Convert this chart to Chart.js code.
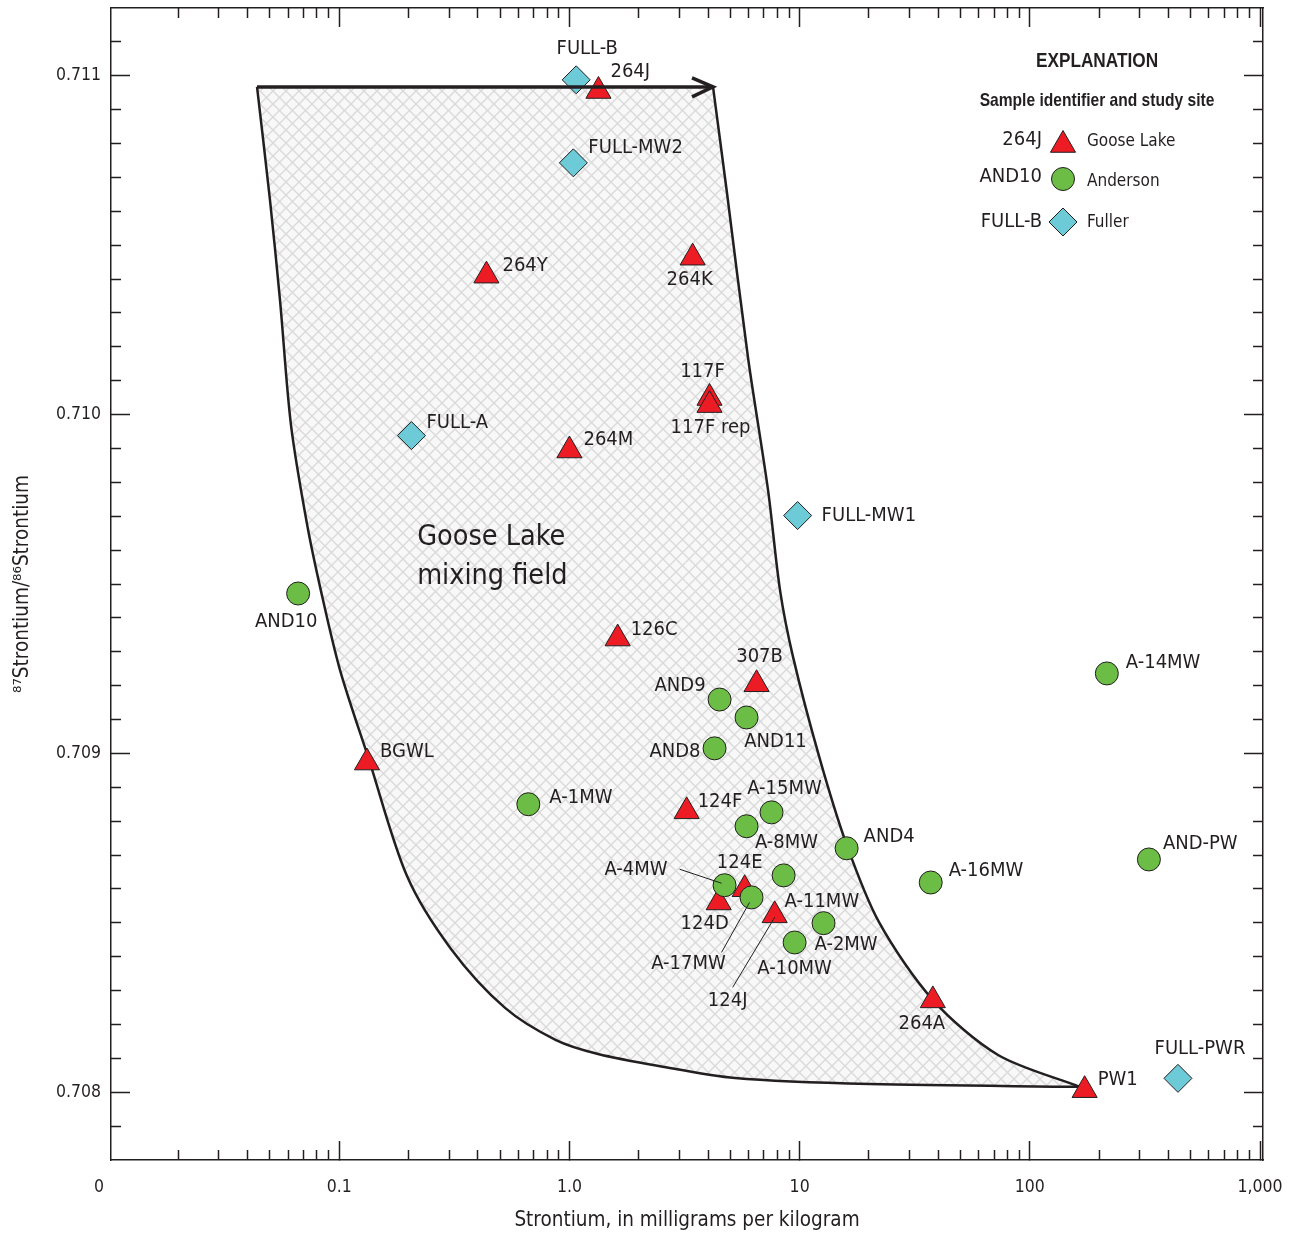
<!DOCTYPE html>
<html>
<head>
<meta charset="utf-8">
<title>Strontium isotope ratios</title>
<script src="https://cdn.jsdelivr.net/npm/chart.js@4.4.1/dist/chart.umd.min.js"></script>
<style>
  html, body { margin: 0; padding: 0; background: #ffffff; }
  #box { position: relative; width: 1299px; height: 1236px; }
</style>
</head>
<body>
<div id="box"><canvas id="myChart"></canvas></div>
<script>
// Goose Lake samples (red triangles)
const gooseNames = ["264J", "264Y", "264K", "117F", "117F rep", "264M", "126C", "307B", "BGWL", "124F", "124E", "124D", "124J", "264A", "PW1"];
const gooseSr = [1.337, 0.436, 3.43, 4.06, 4.06, 1.0, 1.62, 6.5, 0.132, 3.23, 5.77, 4.45, 7.79, 37.9, 173];
const gooseRatio = [0.710955, 0.71041, 0.710463, 0.710049, 0.710028, 0.709894, 0.709339, 0.709204, 0.708973, 0.708829, 0.708599, 0.70856, 0.708522, 0.708271, 0.708006];

// Anderson samples (green circles)
const andNames = ["AND10", "AND9", "AND11", "AND8", "A-1MW", "A-15MW", "A-8MW", "AND4", "A-11MW", "A-4MW", "A-17MW", "A-2MW", "A-10MW", "A-16MW", "A-14MW", "AND-PW"];
const andSr = [0.0663, 4.49, 5.88, 4.27, 0.663, 7.55, 5.88, 16.0, 8.52, 4.72, 6.18, 12.7, 9.51, 37.1, 216, 329];
const andRatio = [0.709472, 0.709159, 0.709106, 0.709015, 0.70885, 0.708826, 0.708785, 0.70872, 0.70864, 0.708611, 0.708575, 0.708499, 0.708442, 0.708619, 0.709236, 0.708687];

// Fuller samples (blue diamonds)
const fullNames = ["FULL-B", "FULL-MW2", "FULL-A", "FULL-MW1", "FULL-PWR"];
const fullSr = [1.07, 1.04, 0.206, 9.8, 440];
const fullRatio = [0.710988, 0.710743, 0.709938, 0.709702, 0.708041];

// mixing field: left edge from top down to PW1, right edge from PW1 back up
const leftSr = [0.04395, 0.05003, 0.0553, 0.06173, 0.07246, 0.08334, 0.1008, 0.1347, 0.197, 0.3059, 0.5252, 0.8744, 1.331, 2.475, 5.241, 20.22, 165.2];
const leftRatio = [0.710967, 0.710633, 0.710338, 0.709969, 0.709677, 0.709479, 0.709246, 0.708981, 0.708638, 0.708423, 0.708249, 0.708154, 0.708113, 0.708077, 0.708042, 0.708024, 0.708016];
const rightSr = [165.2, 72.77, 37.96, 22.12, 15.9, 12.14, 9.361, 8.218, 7.291, 5.97, 4.836, 4.205];
const rightRatio = [0.708016, 0.70811, 0.708272, 0.708502, 0.708736, 0.708992, 0.709285, 0.709482, 0.709777, 0.710167, 0.710654, 0.710967];
const arrowSr = [0.04395, 4.205];
const arrowRatio = [0.710967, 0.710967];

const xMajor = [0.01, 0.1, 1, 10, 100, 1000];
const xLabels = ["0", "0.1", "1.0", "10", "100", "1,000"];
const yMajor = [0.708, 0.709, 0.710, 0.711];
const yLabels = ["0.708", "0.709", "0.710", "0.711"];

const xMinor = [];
[0.01, 0.1, 1, 10, 100].forEach(d => { for (let m = 2; m <= 9; m++) xMinor.push(+(m * d).toPrecision(3)); });
const yMinor = [];
for (let k = 1; k < 34; k++) { if ((k - 2) % 10 !== 0) yMinor.push(+(0.7078 + k * 0.0001).toFixed(4)); }

// label offsets from each marker, in pixels: dx, dy, text alignment
const gooseLabelPos = [[12, -19, "left"], [16, -10, "left"], [-3, 22, "center"], [-7, -26, "center"], [1, 23, "center"],
  [14, -11, "left"], [13, -9, "left"], [3, -27, "center"], [13, -11, "left"], [11, -10, "left"], [-5, -26, "center"],
  [-14, 21, "center"], [-47, 85, "center"], [-11, 23, "center"], [13, -10, "left"]];
const andLabelPos = [[-12, 28, "center"], [-14, -14, "right"], [29, 24, "center"], [-14, 3, "right"], [21, -6, "left"],
  [13, -24, "center"], [40, 17, "center"], [17, -11, "left"], [1, 26, "left"], [-57, -15, "right"], [-63, 66, "center"],
  [-9, 22, "left"], [0, 26, "center"], [18, -12, "left"], [19, -11, "left"], [14, -16, "left"]];
const fullLabelPos = [[11, -31, "center"], [15, -15, "left"], [15, -13, "left"], [24, 0, "left"], [22, -30, "center"]];
// leader lines: dataset, point, from dx,dy to dx,dy
const leaders = [[1, 9, -45, -16, -3, -2], [1, 10, -30, 55, -2, 5], [2, 12, -42, 72, 0, 2]];

const ink = "#231f20";
const red = "#ed1c24";
const green = "#6cbd45";
const cyan = "#6dcbd8";
const cond = "'DejaVu Sans Condensed', 'DejaVu Sans', sans-serif";
const sans = "'Liberation Sans', Arial, sans-serif";

const X_MIN = 0.0102, X_MAX = 1030, Y_MIN = 0.7078, Y_MAX = 0.7112;

function pts(xs, ys) { return xs.map((x, i) => ({ x: x, y: ys[i] })); }

const canvas = document.getElementById("myChart");

function makeHatch() {
  const s = 13, c = document.createElement("canvas");
  c.width = s; c.height = s;
  const g = c.getContext("2d");
  g.fillStyle = "#f8f8f8";
  g.fillRect(0, 0, s, s);
  g.strokeStyle = "#dadada";
  g.lineWidth = 1.4;
  for (const k of [-s, 0, s]) {
    g.beginPath();
    g.moveTo(k, 0); g.lineTo(k + s, s);
    g.moveTo(k, s); g.lineTo(k + s, 0);
    g.stroke();
  }
  return canvas.getContext("2d").createPattern(c, "repeat");
}
const hatch = makeHatch();

function zeroPad(s) { s.paddingTop = 0; s.paddingBottom = 0; s.paddingLeft = 0; s.paddingRight = 0; }

// axis that only carries inward tick marks
function tickAxis(axis, position, values, len, border, weight) {
  return {
    axis: axis,
    type: axis === "x" ? "logarithmic" : "linear",
    position: position,
    weight: weight,
    min: axis === "x" ? X_MIN : Y_MIN,
    max: axis === "x" ? X_MAX : Y_MAX,
    afterBuildTicks: s => { s.ticks = values.map(v => ({ value: v })); },
    ticks: { display: false },
    grid: { drawOnChartArea: false, tickLength: -len, tickWidth: 1.5, tickColor: ink },
    border: { display: border, color: ink, width: 1.5 },
    afterFit: s => { if (axis === "x") s.height = 0; else s.width = 0; zeroPad(s); }
  };
}

const xAxis = tickAxis("x", "bottom", xMajor, 19, true, 1);
xAxis.ticks = {
  display: true, autoSkip: false, maxRotation: 0, padding: 36, color: ink,
  font: { family: cond, size: 17.5 },
  callback: (v, i) => i === 0 ? xLabels[0] + "\u00a0\u00a0\u00a0\u00a0" : xLabels[i]
};
xAxis.grid.tickColor = c => c.index === 0 ? "rgba(0,0,0,0)" : ink;
xAxis.title = { display: true, text: "Strontium, in milligrams per kilogram", color: ink,
  font: { family: cond, size: 20.5 }, padding: { top: 0, bottom: 3 } };
xAxis.afterFit = s => { s.height = 76; zeroPad(s); };

const yAxis = tickAxis("y", "left", yMajor, 19, true, 1);
yAxis.ticks = {
  display: true, autoSkip: false, padding: 29, color: ink,
  font: { family: cond, size: 17.5 },
  callback: (v, i) => yLabels[i]
};
yAxis.title = { display: true, text: "\u2078\u2077Strontium/\u2078\u2076Strontium", color: ink,
  font: { family: cond, size: 20.5 }, padding: { top: 10, bottom: 0 } };
yAxis.afterFit = s => { s.width = 111; zeroPad(s); };

function drawMarker(ctx, style, x, y, r) {
  ctx.beginPath();
  if (style === "circle") {
    ctx.arc(x, y, r, 0, Math.PI * 2);
  } else if (style === "triangle") {
    ctx.moveTo(x, y - r);
    ctx.lineTo(x + r * 0.866, y + r * 0.5);
    ctx.lineTo(x - r * 0.866, y + r * 0.5);
  } else {
    ctx.moveTo(x - r, y); ctx.lineTo(x, y - r); ctx.lineTo(x + r, y); ctx.lineTo(x, y + r);
  }
  ctx.closePath();
  ctx.fill();
  ctx.stroke();
}

// bold headings of the explanation are narrower than any installed face
function squeezeText(ctx, text, x, y, sx) {
  ctx.save();
  ctx.translate(x, y);
  ctx.scale(sx, 1);
  ctx.fillText(text, 0, 0);
  ctx.restore();
}

function tracePoints(ctx, points, first) {
  points.forEach((p, i) => {
    if (i === 0) { if (first) ctx.moveTo(p.x, p.y); else ctx.lineTo(p.x, p.y); return; }
    const q = points[i - 1];
    if (q.cp2x !== undefined && p.cp1x !== undefined) ctx.bezierCurveTo(q.cp2x, q.cp2y, p.cp1x, p.cp1y, p.x, p.y);
    else ctx.lineTo(p.x, p.y);
  });
}

function drawLabels(ctx, chart, ds, names, pos) {
  chart.getDatasetMeta(ds).data.forEach((p, i) => {
    ctx.textAlign = pos[i][2];
    ctx.fillText(names[i], p.x + pos[i][0], p.y + pos[i][1]);
  });
}

const legendRows = [
  ["264J", "triangle", red, 14.5, "Goose Lake", 140, 145, 142],
  ["AND10", "circle", green, 11.5, "Anderson", 177, 179, 182],
  ["FULL-B", "diamond", cyan, 14, "Fuller", 222, 222, 223]
];

const overlay = {
  id: "overlay",
  beforeDatasetsDraw(chart) {
    const ctx = chart.ctx, a = chart.chartArea;
    const right = chart.getDatasetMeta(4), left = chart.getDatasetMeta(5);
    left.dataset.updateControlPoints(a, "x");
    right.dataset.updateControlPoints(a, "x");
    ctx.save();
    ctx.beginPath();
    ctx.rect(a.left, a.top, a.right - a.left, a.bottom - a.top);
    ctx.clip();
    ctx.beginPath();
    tracePoints(ctx, left.data, true);
    tracePoints(ctx, right.data, false);
    ctx.closePath();
    ctx.fillStyle = hatch;
    ctx.fill();
    ctx.restore();
  },
  afterDatasetsDraw(chart) {
    const ctx = chart.ctx;
    ctx.save();
    // arrowhead on the top edge of the mixing field
    const arrow = chart.getDatasetMeta(0).data;
    const tip = arrow[arrow.length - 1];
    ctx.strokeStyle = ink;
    ctx.lineWidth = 3.5;
    ctx.lineJoin = "miter";
    ctx.beginPath();
    ctx.moveTo(tip.x - 21, tip.y - 9);
    ctx.lineTo(tip.x, tip.y);
    ctx.lineTo(tip.x - 21, tip.y + 10);
    ctx.stroke();

    ctx.lineWidth = 1;
    leaders.forEach(l => {
      const p = chart.getDatasetMeta(l[0]).data[l[1]];
      ctx.beginPath();
      ctx.moveTo(p.x + l[2], p.y + l[3]);
      ctx.lineTo(p.x + l[4], p.y + l[5]);
      ctx.stroke();
    });

    ctx.fillStyle = ink;
    ctx.textBaseline = "middle";
    ctx.font = "20px " + cond;
    drawLabels(ctx, chart, 1, andNames, andLabelPos);
    drawLabels(ctx, chart, 2, gooseNames, gooseLabelPos);
    drawLabels(ctx, chart, 3, fullNames, fullLabelPos);

    // field name
    const fx = chart.scales.x.getPixelForValue(0.218);
    const fy = chart.scales.y.getPixelForValue(0.709637);
    ctx.font = "28.5px " + cond;
    ctx.textAlign = "left";
    ctx.fillText("Goose Lake", fx, fy);
    ctx.fillText("mixing field", fx, fy + 39);

    // explanation
    ctx.textAlign = "center";
    ctx.font = "bold 21px " + sans;
    squeezeText(ctx, "EXPLANATION", 1097, 61, 0.82);
    ctx.font = "bold 19px " + sans;
    squeezeText(ctx, "Sample identifier and study site", 1097, 101, 0.82);
    legendRows.forEach(r => {
      ctx.fillStyle = ink;
      ctx.font = "20px " + cond;
      ctx.textAlign = "right";
      ctx.fillText(r[0], 1042, r[5]);
      ctx.font = "17px " + cond;
      ctx.textAlign = "left";
      ctx.fillText(r[4], 1087, r[7]);
      ctx.fillStyle = r[2];
      ctx.strokeStyle = ink;
      ctx.lineWidth = 1;
      drawMarker(ctx, r[1], 1063, r[6], r[3]);
    });
    ctx.restore();
  }
};

const config = {
  type: "scatter",
  data: {
    datasets: [
      { label: "arrow", data: pts(arrowSr, arrowRatio), showLine: true, borderColor: ink, borderWidth: 3.5, pointRadius: 0 },
      { label: "Anderson", data: pts(andSr, andRatio), pointStyle: "circle", pointRadius: 11.5,
        backgroundColor: green, borderColor: ink, borderWidth: 1 },
      { label: "Goose Lake", data: pts(gooseSr, gooseRatio), pointStyle: "triangle", pointRadius: 14.5,
        backgroundColor: red, borderColor: ink, borderWidth: 1 },
      { label: "Fuller", data: pts(fullSr, fullRatio), pointStyle: "rectRot", pointRadius: 14,
        backgroundColor: cyan, borderColor: ink, borderWidth: 1 },
      { label: "field right", data: pts(rightSr, rightRatio), showLine: true, tension: 0.3,
        borderColor: ink, borderWidth: 2.5, pointRadius: 0 },
      { label: "field left", data: pts(leftSr, leftRatio), showLine: true, tension: 0.3,
        borderColor: ink, borderWidth: 2.5, pointRadius: 0 }
    ]
  },
  options: {
    responsive: true,
    maintainAspectRatio: false,
    devicePixelRatio: 1,
    animation: false,
    events: [],
    layout: { autoPadding: false, padding: { top: 8, right: 36, bottom: 0, left: 0 } },
    plugins: { legend: { display: false }, tooltip: { enabled: false } },
    scales: {
      x: xAxis,
      xMinor: tickAxis("x", "bottom", xMinor, 10, false, 0),
      xTop: tickAxis("x", "top", xMajor.slice(1), 19, true, 1),
      xTopMinor: tickAxis("x", "top", xMinor, 10, false, 0),
      y: yAxis,
      yMinor: tickAxis("y", "left", yMinor, 10, false, 0),
      yRight: tickAxis("y", "right", yMajor, 19, true, 1),
      yRightMinor: tickAxis("y", "right", yMinor, 10, false, 0)
    }
  },
  plugins: [overlay]
};

const myChart = new Chart(canvas, config);
</script>
</body>
</html>
